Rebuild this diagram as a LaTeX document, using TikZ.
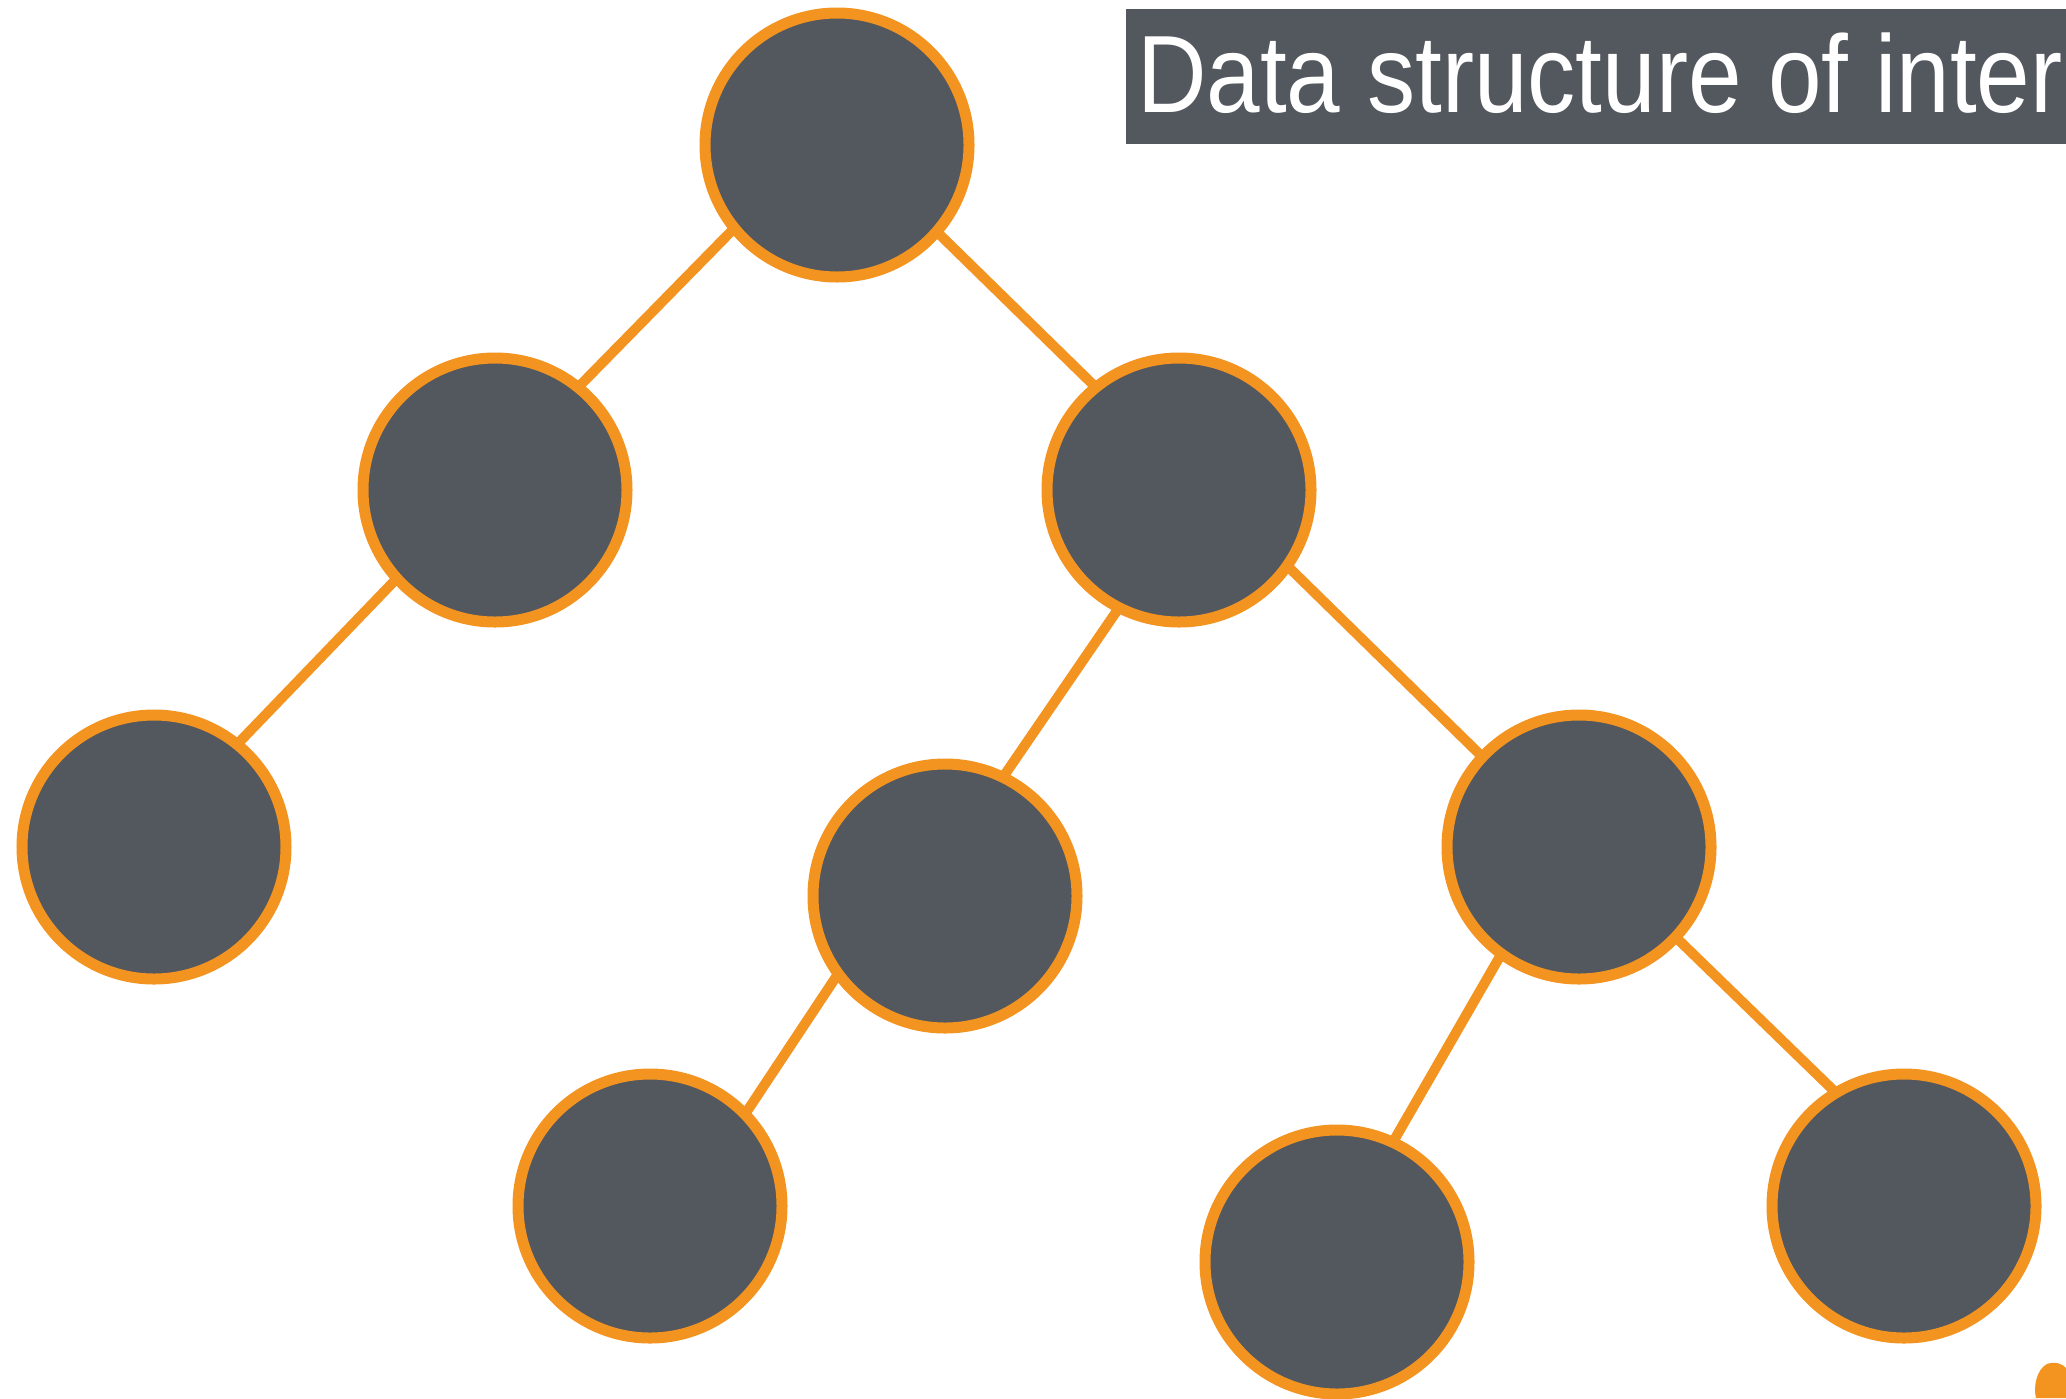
\documentclass[tikz,border=0pt]{standalone}
\usepackage{fontspec}
\newfontfamily\titlefont[FakeStretch=0.875]{Liberation Sans}
\usetikzlibrary{shadows,backgrounds}
\definecolor{slate}{HTML}{53575E}
\definecolor{brush}{HTML}{F39320}
\tikzset{
  treenode/.style={circle, minimum size=264pt, inner sep=0pt, outer sep=0pt,
    fill=slate, draw=brush, line width=11pt,
    drop shadow={shadow xshift=0pt, shadow yshift=-5pt, opacity=0.22, fill=black}},
  branch/.style={draw=brush, line width=10pt, line cap=butt},
  titletext/.style={text=white, inner sep=0pt, anchor=base west, font=\titlefont\fontsize{110}{115}\selectfont}
}
\begin{document}
\begin{tikzpicture}[x=1pt,y=-1pt]
\useasboundingbox (0,0) rectangle (2066,1398);
% title
\fill[slate] (1126,9) rectangle (2066,144);
\node[titletext] (title) at (1137,112) {Data structure of inter};
% nodes
\node[treenode] (n1) at (837,145) {};
\node[treenode] (n2) at (495,490) {};
\node[treenode] (n3) at (1179,490) {};
\node[treenode] (n4) at (154,847) {};
\node[treenode] (n5) at (945,896) {};
\node[treenode] (n6) at (1579,847) {};
\node[treenode] (n7) at (650,1206) {};
\node[treenode] (n8) at (1337,1262) {};
\node[treenode] (n9) at (1904,1206) {};
% edges
\begin{scope}[on background layer]
\fill[white] (0,0) rectangle (2066,1398);
\draw[branch] (n1.219.5) -- (n2.51.8);
\draw[branch] (n1.-41.7) -- (n3.129.5);
\draw[branch] (n2.222) -- (n4.51.8);
\draw[branch] (n3.243.2) -- (n5.64.7);
\draw[branch] (n3.-35) -- (n6.137.8);
\draw[branch] (n5.216.8) -- (n7.44.6);
\draw[branch] (n6.234.1) -- (n8.65.8);
\draw[branch] (n6.-43) -- (n9.121.4);
\end{scope}
% paint splash in corner
\fill[brush] (2036,1398) .. controls (2033,1386) and (2037,1369) .. (2047,1364)
  .. controls (2055,1361) and (2063,1364) .. (2066,1368) -- (2066,1398) -- cycle;
\end{tikzpicture}
\end{document}
